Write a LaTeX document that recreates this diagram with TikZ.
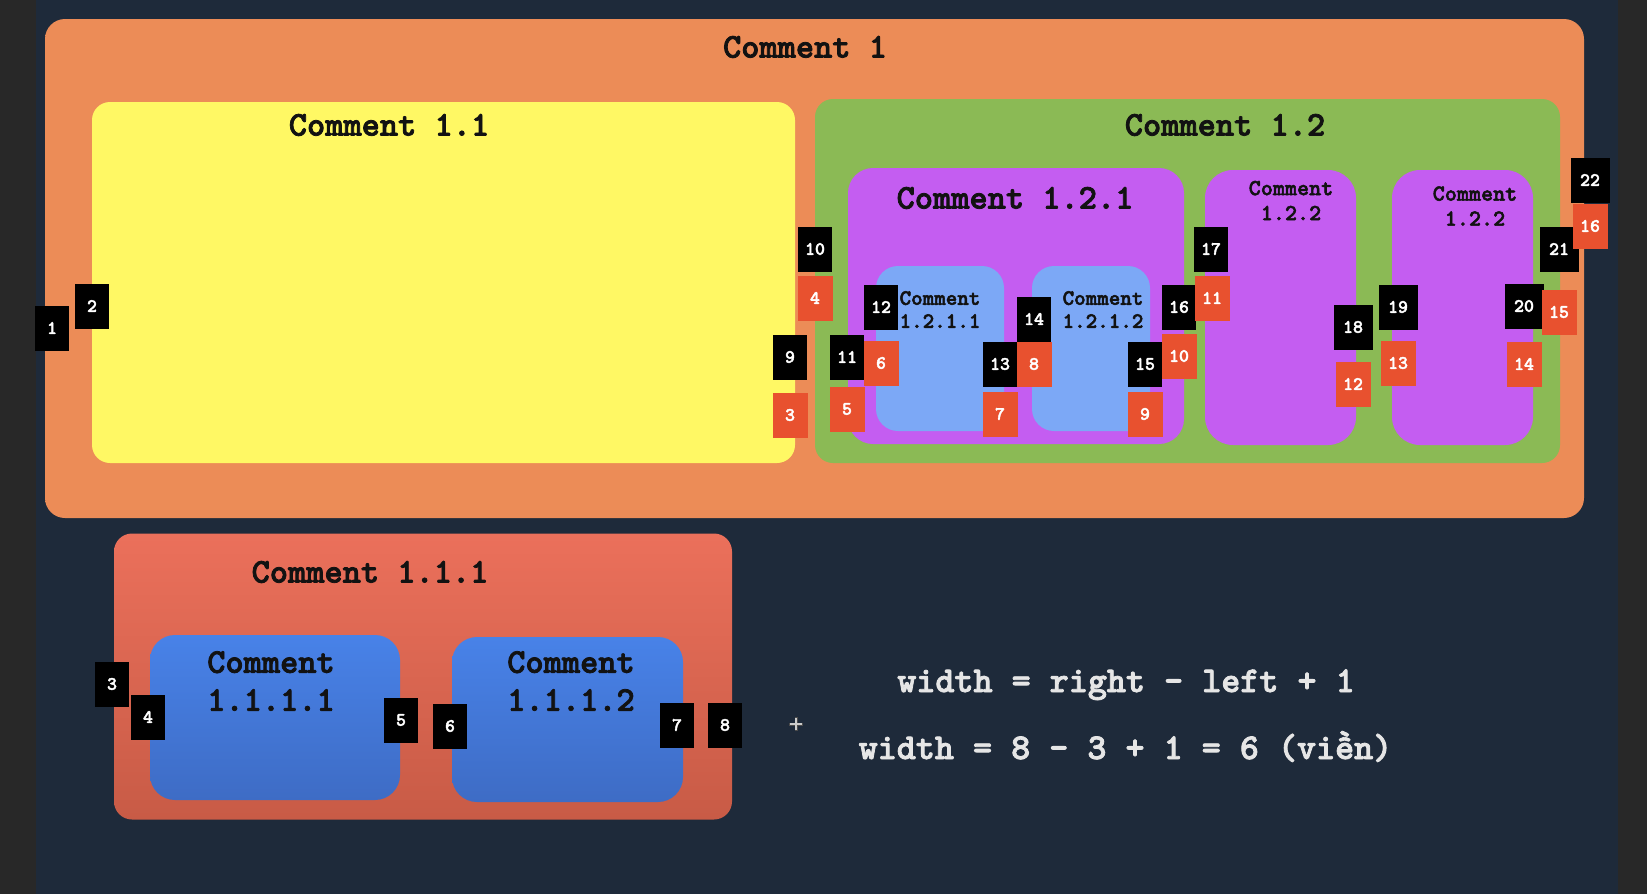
\documentclass[tikz,border=0pt]{standalone}
\usepackage{fontspec}
\usepackage{tikz}

\newfontfamily\heavymono{lmmonolt10-bold.otf}[FakeBold=2.2]

\definecolor{navybg}{HTML}{1E2A3A}
\definecolor{stripbg}{HTML}{282828}
\definecolor{orangetop}{HTML}{D47C4E}
\definecolor{orangebot}{HTML}{EC8C57}
\definecolor{yellowbox}{HTML}{FFF864}
\definecolor{greenbox}{HTML}{8BBA55}
\definecolor{purplebox}{HTML}{C45DF1}
\definecolor{lightblue}{HTML}{7CA8F6}
\definecolor{numred}{HTML}{E8512F}
\definecolor{redtop}{HTML}{EB705B}
\definecolor{redbot}{HTML}{C85B46}
\definecolor{bluetop}{HTML}{4882E8}
\definecolor{bluebot}{HTML}{3E6CC5}
\definecolor{inktext}{HTML}{121212}
\definecolor{chalk}{HTML}{E6E6E6}

\pgfdeclareverticalshading{orangefade}{100bp}{color(0bp)=(orangebot); color(85bp)=(orangebot); color(100bp)=(orangetop)}

\def\bigsize{\fontsize{34.7}{40}\selectfont}
\def\midsize{\fontsize{23}{25}\selectfont}

\begin{document}
\begin{tikzpicture}[x=1pt, y=-1pt, inner sep=0pt]
            \tikzstyle{block}=[rectangle, draw=none, rounded corners=20pt]
            \tikzstyle{boxtitle}=[text=inktext, font=\heavymono\bigsize]
            \tikzstyle{smalltitle}=[text=inktext, font=\heavymono\midsize, align=center]
            \tikzstyle{numblack}=[rectangle, fill=black, text=white, minimum width=34pt, minimum height=45pt, font=\heavymono\fontsize{19}{20}\selectfont]
            \tikzstyle{numred}=[numblack, fill=numred]
            \tikzstyle{formula}=[text=chalk, anchor=base, font=\heavymono\fontsize{36.3}{40}\selectfont]

            \useasboundingbox (0,0) rectangle (1647,894);

            % Background and side strips
            \fill[navybg] (0,0) rectangle (1647,894);
            \fill[stripbg] (0,0) rectangle (36,894);
            \fill[stripbg] (1618,0) rectangle (1647,894);

            % Draw the outer comment and its two children
            \node[block, shading=orangefade, minimum width=1539pt, minimum height=499pt] (C-1) at (814.5,268.5) {};
            \node[boxtitle] (T-1) at (805,47) {Comment 1};

            \node[block, fill=yellowbox, rounded corners=18pt, minimum width=703pt, minimum height=361pt] (C-11) at (443.5,282.5) {};
            \node[boxtitle] (T-11) at (389,125) {Comment 1.1};

            \node[block, fill=greenbox, rounded corners=18pt, minimum width=745pt, minimum height=364pt] (C-12) at (1187.5,281) {};
            \node[boxtitle] (T-12) at (1225,125) {Comment 1.2};

            % Draw the nested comments of 1.2
            \node[block, fill=purplebox, rounded corners=25pt, minimum width=336pt, minimum height=276pt] (C-121) at (1016,306) {};
            \node[boxtitle] (T-121) at (1015,198) {Comment 1.2.1};

            \foreach \name/\x/\w/\tx in {1/940/128/940, 2/1091/118/1103}
            {
                \node[block, fill=lightblue, rounded corners=22pt, minimum width=\w pt, minimum height=165pt] (C-121\name) at (\x,348.5) {};
                \node[smalltitle, font=\heavymono\fontsize{22}{23}\selectfont] (T-121\name) at (\tx,309.5) {Comment\\1.2.1.\name};
            }

            \foreach \name/\x/\w in {a/1280.5/151, b/1462.5/141}
            {
                \node[block, fill=purplebox, rounded corners=28pt, minimum width=\w pt, minimum height=275pt] (C-122\name) at (\x,307.5) {};
            }
            \node[smalltitle] (T-122a) at (1291,200.5) {Comment\\1.2.2};
            \node[smalltitle] (T-122b) at (1475,206) {Comment\\1.2.2};

            % Draw the lower comment 1.1.1
            \node[block, top color=redtop, bottom color=redbot, rounded corners=18pt, minimum width=618pt, minimum height=286pt] (C-111) at (423,676.5) {};
            \node[boxtitle] (T-111) at (370,572) {Comment 1.1.1};

            \foreach \name/\x/\w/\y in {1/275/250/717.5, 2/567.5/231/719.5}
            {
                \node[block, top color=bluetop, bottom color=bluebot, rounded corners=25pt, minimum width=\w pt, minimum height=165pt] (C-111\name) at (\x,\y) {};
            }
            \node[smalltitle, font=\heavymono\fontsize{34.7}{38}\selectfont] (T-1111) at (271,681) {Comment\\1.1.1.1};
            \node[smalltitle, font=\heavymono\fontsize{34.7}{38}\selectfont] (T-1112) at (571,681) {Comment\\1.1.1.2};

            % Draw the black position markers
            \foreach \name/\x/\y in {1/52/328, 2/92/306, 3/112/684, 4/148/717, 5/401/720, 6/450/726, 7/677/725, 8/725/725,
                                     9/790/357, 10/815/249, 11/847/357, 12/881/307, 13/1000/364, 14/1034/319, 15/1145/364, 16/1179/307, 17/1211/249}
                \node[numblack] (B-\name) at (\x,\y) {\name};
            \foreach \name/\x/\y in {18/1353/327, 19/1398/307, 20/1524/306, 21/1559/249, 22/1590/180}
                \node[numblack, minimum width=39pt] (B-\name) at (\x,\y) {\name};

            % Draw the red position markers
            \foreach \name/\x/\y in {3/790/415, 4/815/298, 5/847/409, 6/881/363, 7/1000/414, 8/1034/364, 9/1145/414,
                                     10/1179/356, 11/1212/298, 12/1353/384, 13/1398/363, 14/1524/364, 15/1559/312, 16/1590/226}
                \node[numred, minimum width=35pt] (R-\name) at (\x,\y) {\name};

            % Width formula
            \node[formula] (F-1) at (1126,692) {width = right - left + 1};
            \node[formula] (F-2) at (1125.5,759) {width = 8 - 3 + 1 = 6 (viền)};

            % Mouse cursor
            \coordinate (P) at (796,724);
            \draw[black!70, line width=3pt] (P) ++(-7,0) -- ++(14,0);
            \draw[black!70, line width=3pt] (P) ++(0,-7) -- ++(0,14);
            \draw[gray!40, line width=1.2pt] (P) ++(-6,0) -- ++(12,0);
            \draw[gray!40, line width=1.2pt] (P) ++(0,-6) -- ++(0,12);

\end{tikzpicture}
\end{document}
